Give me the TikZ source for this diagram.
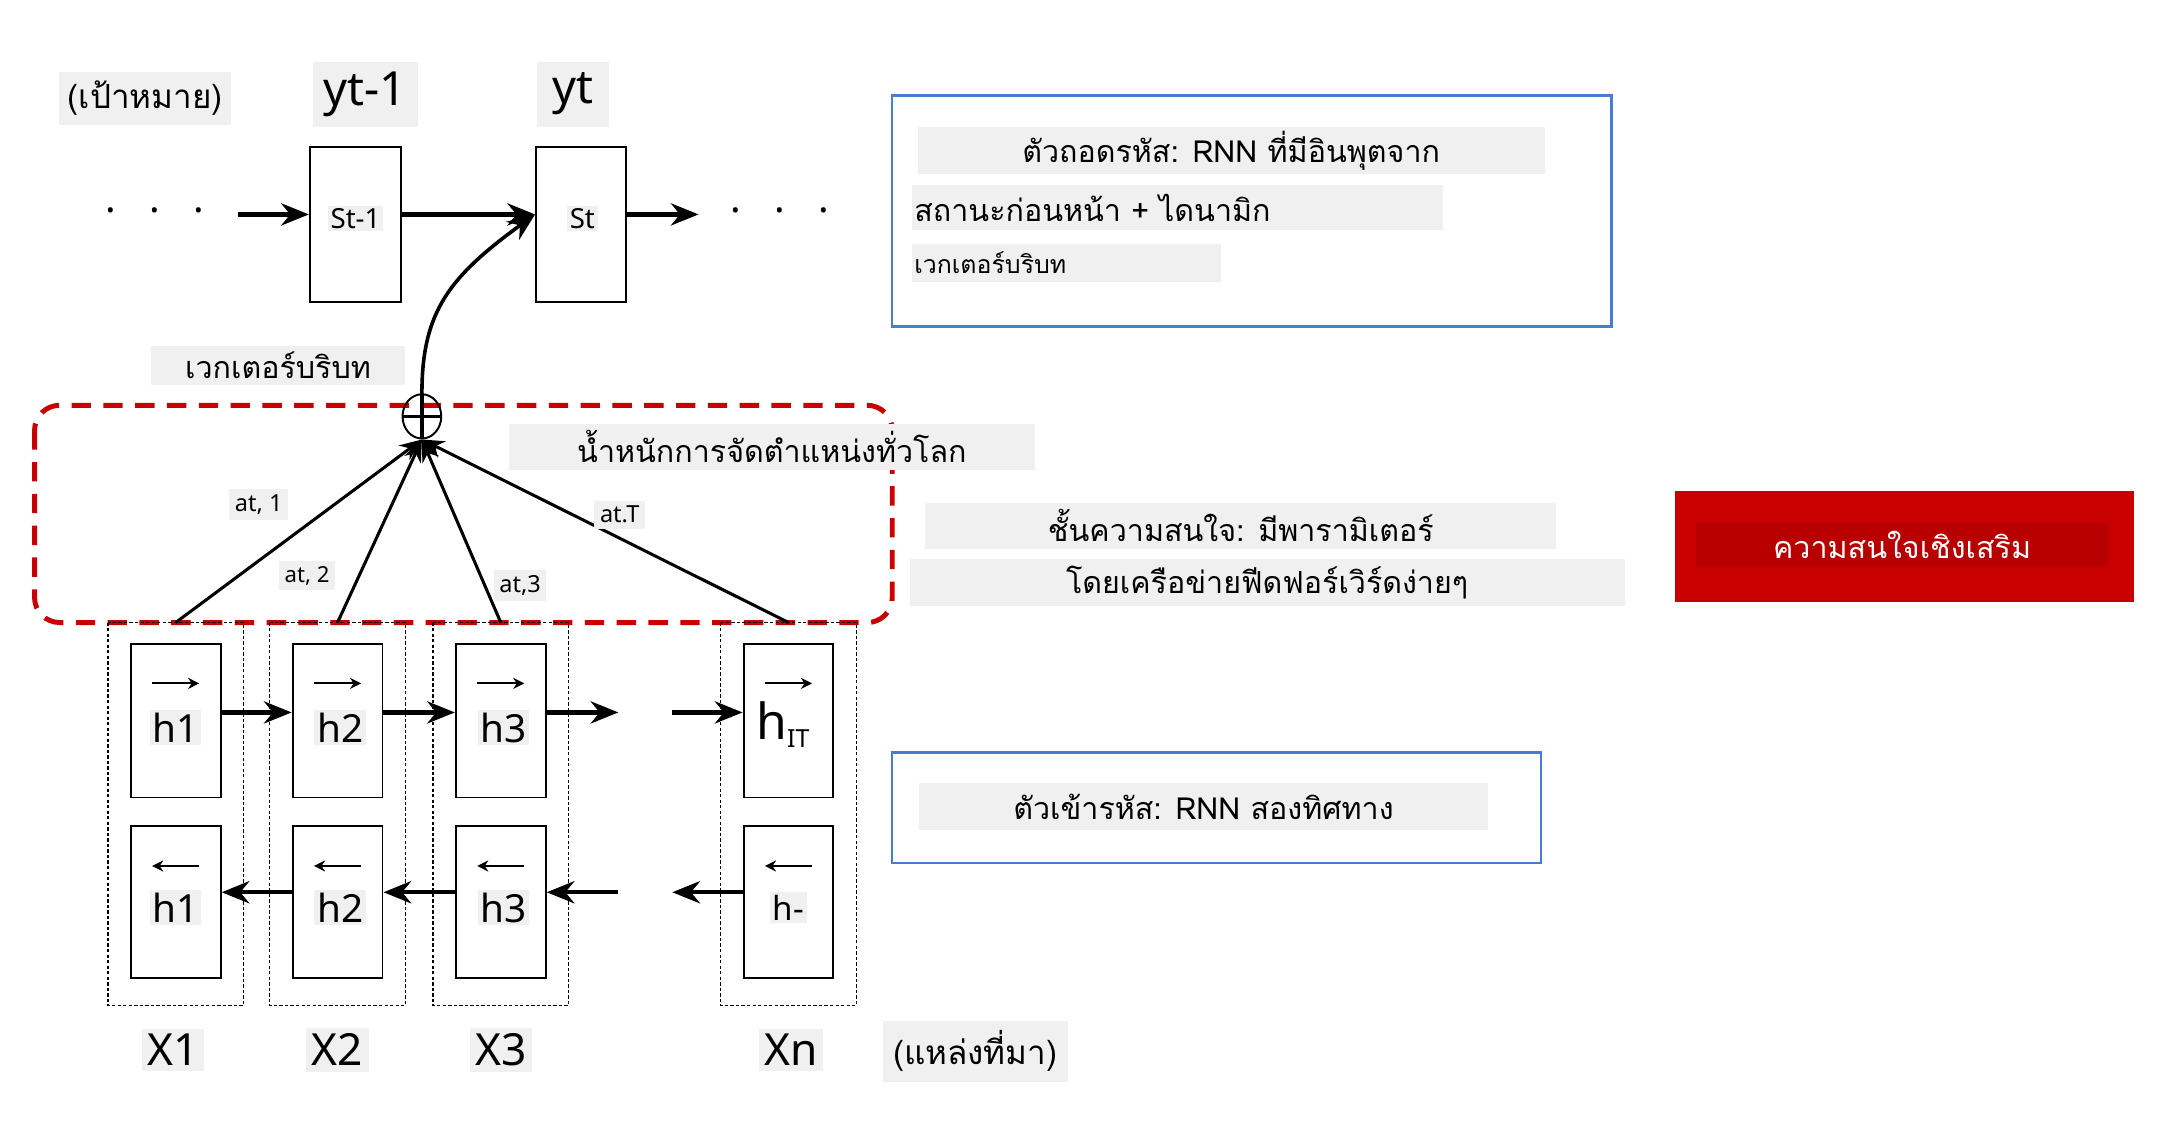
\documentclass[tikz,border=0pt]{standalone}
\usepackage{fontspec}
\setmainfont{Noto Sans}
\newfontfamily\thai[Script=Thai]{Loma}
\usetikzlibrary{arrows.meta,shapes.geometric}
\definecolor{gbg}{HTML}{F0F0F0}
\definecolor{myred}{HTML}{C80000}
\definecolor{myblue}{HTML}{4A7BD0}
\begin{document}
\begin{tikzpicture}[x=0.5pt,y=-0.5pt,
  gb/.style={fill=gbg,inner sep=0pt},
  cell/.style={draw,line width=0.7pt,fill=none},
  col/.style={draw,dash pattern=on 1.2pt off 0.8pt,line width=0.5pt},
  arr/.style={line width=1.6pt,-{Stealth[length=10pt,width=8pt]}},
  thin/.style={line width=1.1pt,-{Stealth[length=8pt,width=6.5pt]}},
  harr/.style={line width=0.8pt,-{Stealth[length=4pt,width=4pt]}},
  th/.style={font=\thai\fontsize{11}{13}\selectfont},
  bl/.style={draw=myblue,line width=0.8pt}]
\useasboundingbox (0,0) rectangle (1560,810);
% top labels
\node[gb,minimum width=62pt,minimum height=19pt,font=\thai\fontsize{12}{14}\selectfont] (tg) at (105,71) {(เป้าหมาย)};
\node[gb,minimum width=38pt,minimum height=23.5pt,font=\fontsize{17}{20}\selectfont] (y1) at (264,68) {yt-1};
\node[gb,minimum width=26pt,minimum height=23.5pt,font=\fontsize{17}{20}\selectfont] (y2) at (414,68) {yt};
% decoder cells
\node[cell,minimum width=33pt,minimum height=56pt] (s1) at (257,162) {};
\node[cell,minimum width=32.5pt,minimum height=56pt] (s2) at (420,162) {};
\node[gb,font=\fontsize{10}{12}\selectfont,inner sep=1pt] at (257,158) {St-1};
\node[gb,font=\fontsize{10}{12}\selectfont,inner sep=1pt] at (421,158) {St};
\node[font=\Large] (d1) at (112,152) {.\hspace{12pt}.\hspace{12pt}.};
\node[font=\Large] (d2) at (564,152) {.\hspace{12pt}.\hspace{12pt}.};
\coordinate (a0) at (172,155);
\coordinate (a3) at (505,155);
\draw[arr] (a0) -- (s1.west|-a0);
\draw[arr] (s1.east|-a0) -- (s2.west|-a0);
\draw[arr] (s2.east|-a0) -- (a3);
% context
\node[gb,minimum width=91.5pt,minimum height=14pt,th] (cv) at (201,264) {เวกเตอร์บริบท};
\draw[myred,line width=1.8pt,dash pattern=on 7pt off 4.5pt,rounded corners=9pt] (25,293) rectangle (645,450);
\node[draw,ellipse,line width=0.7pt,minimum width=14pt,minimum height=16pt,inner sep=0pt] (pl) at (305,301) {};
\draw[line width=1.2pt] (pl.north) -- (pl.south) (pl.west) -- (pl.east);
\draw[line width=1.3pt,-{Stealth[length=10pt,width=8pt]}] (pl.north) .. controls (305,225) and (325,200) .. (s2.west|-a0);
\node[gb,minimum width=190pt,minimum height=16.5pt,th] (aw) at (558,323) {น้ำหนักการจัดตำแหน่งทั่วโลก};
% encoder columns
\foreach \n/\x in {1/127,2/244,3/362,4/570}{
  \draw[col] (\x-49,450) rectangle (\x+49,727);
  \node[cell,minimum width=32.5pt,minimum height=55.5pt] (f\n) at (\x,521) {};
  \node[cell,minimum width=32.5pt,minimum height=55pt] (b\n) at (\x,652) {};
  \coordinate (t\n) at (\x,450);
  \draw[harr] (\x-17,494) -- (\x+17,494);
  \draw[harr] (\x+17,626) -- (\x-17,626);
}
\foreach \n/\x/\l in {1/127/h1,2/246/h2,3/364/h3}{
  \node[gb,font=\fontsize{14}{16}\selectfont,inner sep=1pt] at (\x,526) {\l};
  \node[gb,font=\fontsize{14}{16}\selectfont,inner sep=1pt] at (\x,656) {\l};
}
\node[font=\fontsize{18}{18}\selectfont,inner sep=1pt] at (566,524) {h\raisebox{-3pt}{\fontsize{9}{10}\selectfont IT}};
\node[gb,font=\fontsize{12}{14}\selectfont,inner sep=1pt] at (570,656) {h-};
\coordinate (fe) at (447,515); \coordinate (fs) at (486,515);
\coordinate (be) at (394,645); \coordinate (bs) at (447,645);
\coordinate (bs2) at (486,645);
\draw[arr] (f1.east|-fe) -- (f2.west|-fe);
\draw[arr] (f2.east|-fe) -- (f3.west|-fe);
\draw[arr] (f3.east|-fe) -- (fe);
\draw[arr] (fs) -- (f4.west|-fs);
\draw[arr] (b2.west|-be) -- (b1.east|-be);
\draw[arr] (b3.west|-be) -- (b2.east|-be);
\draw[arr] (bs) -- (b3.east|-be);
\draw[arr] (b4.west|-be) -- (bs2);
% attention lines
\foreach \n in {1,2,3,4} \draw[thin] (t\n) -- (pl.south);
\node[gb,font=\fontsize{8.5}{9}\selectfont,inner sep=2pt] at (187,365) {at, 1};
\node[gb,font=\fontsize{8}{9}\selectfont,inner sep=2pt] at (222,416) {at, 2};
\node[gb,font=\fontsize{8.5}{9}\selectfont,inner sep=2pt] at (376,423) {at,3};
\node[gb,font=\fontsize{8.5}{9}\selectfont,inner sep=2pt] at (448,372) {at.T};
% source labels
\foreach \l/\x in {X1/125,X2/244,X3/362,Xn/572}
  \node[gb,font=\fontsize{16}{18}\selectfont,inner sep=2pt] at (\x,759) {\l};
\node[gb,minimum width=67pt,minimum height=22pt,font=\thai\fontsize{12}{14}\selectfont] (src) at (705,760) {(แหล่งที่มา)};
% right side
\draw[bl] (645,69) rectangle (1165,236);
\node[gb,minimum width=226.5pt,minimum height=17pt,th] at (890,109) {ตัวถอดรหัส: RNN ที่มีอินพุตจาก};
\node[gb,minimum width=192pt,minimum height=16.5pt,th,text width=190pt,align=left] at (851,150) {สถานะก่อนหน้า + ไดนามิก};
\node[gb,minimum width=111.5pt,minimum height=13.5pt,font=\thai\fontsize{9}{11}\selectfont,text width=110pt,align=left] at (771,190) {เวกเตอร์บริบท};
\node[gb,minimum width=228pt,minimum height=16.5pt,th] at (897,380) {ชั้นความสนใจ: มีพารามิเตอร์};
\node[gb,minimum width=258.5pt,minimum height=17pt,th] at (916,421) {โดยเครือข่ายฟีดฟอร์เวิร์ดง่ายๆ};
\node[fill=myred,minimum width=166pt,minimum height=40pt,inner sep=0pt] (rb) at (1377,395) {};
\node[fill=myred!92!black,minimum width=149pt,minimum height=16pt,inner sep=0pt,text=white,th] at (1375,394) {ความสนใจเชิงเสริม};
\draw[bl] (645,544) rectangle (1114,624);
\node[gb,minimum width=205.5pt,minimum height=17pt,th] at (870,583) {ตัวเข้ารหัส: RNN สองทิศทาง};
\end{tikzpicture}
\end{document}
